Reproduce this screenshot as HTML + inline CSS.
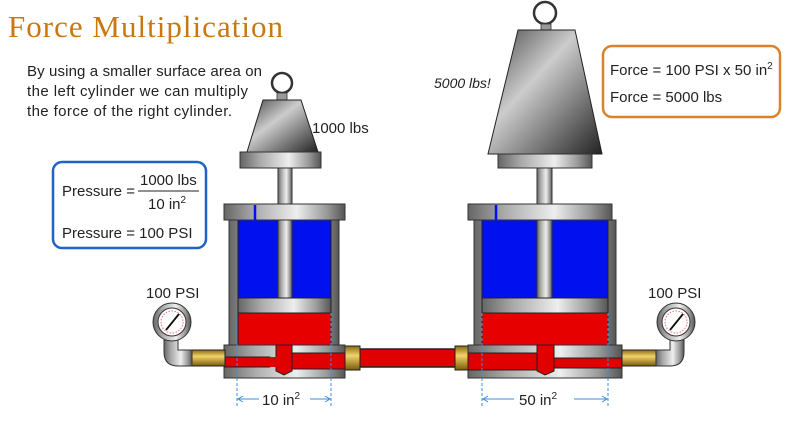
<!DOCTYPE html>
<html><head><meta charset="utf-8"><style>
html,body{margin:0;padding:0;background:#fff;width:800px;height:427px;overflow:hidden}
svg{display:block}
text{font-family:"Liberation Sans",sans-serif;fill:#222}
</style></head><body>
<svg width="800" height="427" viewBox="0 0 800 427" xmlns="http://www.w3.org/2000/svg">
<defs>
<linearGradient id="met" x1="0" x2="1" y1="0" y2="0">
<stop offset="0" stop-color="#666"/><stop offset="0.25" stop-color="#aaa"/><stop offset="0.6" stop-color="#eee"/><stop offset="0.85" stop-color="#999"/><stop offset="1" stop-color="#555"/></linearGradient>
<linearGradient id="wt" x1="0" x2="1" y1="0" y2="1">
<stop offset="0" stop-color="#444"/><stop offset="0.4" stop-color="#ccc"/><stop offset="0.7" stop-color="#777"/><stop offset="1" stop-color="#222"/></linearGradient>
<linearGradient id="brass" x1="0" x2="0" y1="0" y2="1">
<stop offset="0" stop-color="#8a6a10"/><stop offset="0.4" stop-color="#f2d36a"/><stop offset="1" stop-color="#7a5a08"/></linearGradient>
</defs>

<text x="8" y="37" font-size="31" style="font-family:'Liberation Serif',serif;fill:#c8780f" textLength="275">Force Multiplication</text>
<text x="27" y="76" font-size="15" textLength="235">By using a smaller surface area on</text>
<text x="27" y="96" font-size="15" textLength="221">the left cylinder we can multiply</text>
<text x="27" y="116" font-size="15" textLength="205">the force of the right cylinder.</text>

<rect x="53" y="162" width="153" height="86" rx="9" fill="#fff" stroke="#1f63c6" stroke-width="2.5"/>
<text x="62" y="196" font-size="15">Pressure =</text>
<text x="140" y="185" font-size="15">1000 lbs</text>
<line x1="138" y1="191" x2="199" y2="191" stroke="#222" stroke-width="1"/>
<text x="148" y="209" font-size="15">10 in<tspan font-size="10" dy="-6">2</tspan></text>
<text x="62" y="238" font-size="15">Pressure = 100 PSI</text>

<rect x="603" y="46" width="177" height="71" rx="9" fill="#fff" stroke="#d9822b" stroke-width="2.5"/>
<text x="610" y="75" font-size="15">Force = 100 PSI x 50 in<tspan font-size="10" dy="-6">2</tspan></text>
<text x="610" y="102" font-size="15">Force = 5000 lbs</text>

<text x="434" y="88" font-size="14" font-style="italic">5000 lbs!</text>
<text x="312" y="133" font-size="15">1000 lbs</text>
<text x="146" y="298" font-size="15">100 PSI</text>
<text x="648" y="298" font-size="15">100 PSI</text>

<circle cx="282" cy="83" r="10" fill="none" stroke="#333" stroke-width="2.5"/>
<rect x="277" y="93" width="10" height="7" fill="#999" stroke="#333" stroke-width="0.8"/>
<polygon points="263,100 301,100 318,152 247,152" fill="url(#wt)" stroke="#222"/>
<rect x="240" y="152" width="81" height="16" fill="url(#met)" stroke="#333"/>
<rect x="278" y="168" width="14" height="130" fill="url(#met)" stroke="#333"/>

<circle cx="545" cy="13" r="11" fill="none" stroke="#333" stroke-width="2.5"/>
<rect x="541" y="24" width="10" height="6" fill="#999" stroke="#333" stroke-width="0.8"/>
<polygon points="518,30 575,30 602,154 488,154" fill="url(#wt)" stroke="#222"/>
<rect x="498" y="154" width="94" height="14" fill="url(#met)" stroke="#333"/>
<rect x="537" y="168" width="15" height="130" fill="url(#met)" stroke="#333"/>

<rect x="355" y="349" width="105" height="18" fill="#e00000" stroke="#222" stroke-width="1.5"/>
<rect x="344" y="346" width="16" height="24" fill="url(#brass)" stroke="#222"/>
<rect x="455" y="346" width="16" height="24" fill="url(#brass)" stroke="#222"/>

<rect x="229" y="220" width="110" height="125" fill="url(#met)" stroke="#333"/>
<rect x="238" y="220" width="93" height="78" fill="#0010ee" stroke="#222"/>
<rect x="278" y="220" width="14" height="78" fill="url(#met)" stroke="#333"/>
<rect x="238" y="298" width="93" height="15" fill="url(#met)" stroke="#222"/>
<rect x="238" y="313" width="93" height="32" fill="#e60000" stroke="#222"/>
<rect x="224" y="204" width="121" height="16" fill="url(#met)" stroke="#333"/>
<line x1="255" y1="205" x2="255" y2="220" stroke="#0010ee" stroke-width="2.5"/>
<rect x="224" y="345" width="121" height="33" fill="url(#met)" stroke="#333"/>
<rect x="224" y="357" width="46" height="10" fill="#e00000" stroke="#222"/>
<rect x="292" y="353" width="53" height="16" fill="#e00000" stroke="#222"/>
<polygon points="276,345 292,345 292,371 284,375 276,371" fill="#e00000" stroke="#222"/>
<rect x="269" y="357" width="10" height="10" fill="#e00000"/>

<rect x="474" y="220" width="142" height="125" fill="url(#met)" stroke="#333"/>
<rect x="482" y="220" width="126" height="78" fill="#0010ee" stroke="#222"/>
<rect x="537" y="220" width="15" height="78" fill="url(#met)" stroke="#333"/>
<rect x="482" y="298" width="126" height="15" fill="url(#met)" stroke="#222"/>
<rect x="482" y="313" width="126" height="32" fill="#e60000" stroke="#222"/>
<rect x="468" y="204" width="144" height="16" fill="url(#met)" stroke="#333"/>
<line x1="496" y1="205" x2="496" y2="220" stroke="#0010ee" stroke-width="2.5"/>
<rect x="468" y="345" width="154" height="33" fill="url(#met)" stroke="#333"/>
<rect x="468" y="353" width="70" height="17" fill="#e00000" stroke="#222"/>
<rect x="553" y="358" width="69" height="10" fill="#e00000" stroke="#222"/>
<polygon points="537,345 554,345 554,371 545,375 537,371" fill="#e00000" stroke="#222"/>

<rect x="190" y="350" width="35" height="16" fill="url(#brass)" stroke="#222"/>
<path d="M164,340 h14 v10 h14 v16 h-14 q-14,0 -14,-14 z" fill="url(#met)" stroke="#333"/>
<rect x="622" y="350" width="36" height="16" fill="url(#brass)" stroke="#222"/>
<path d="M684,340 h-14 v10 h-14 v16 h14 q14,0 14,-14 z" fill="url(#met)" stroke="#333"/>

<g>
<circle cx="172" cy="322" r="19" fill="url(#met)" stroke="#333"/>
<circle cx="172" cy="322" r="14" fill="#fff" stroke="#333"/>
<circle cx="172" cy="322" r="11" fill="none" stroke="#e88" stroke-width="1.2" stroke-dasharray="1.5 1.5"/>
<line x1="166" y1="330" x2="179" y2="314" stroke="#111" stroke-width="1.8"/>
</g>
<g>
<circle cx="676" cy="322" r="19" fill="url(#met)" stroke="#333"/>
<circle cx="676" cy="322" r="14" fill="#fff" stroke="#333"/>
<circle cx="676" cy="322" r="11" fill="none" stroke="#e88" stroke-width="1.2" stroke-dasharray="1.5 1.5"/>
<line x1="670" y1="330" x2="683" y2="314" stroke="#111" stroke-width="1.8"/>
</g>

<g stroke="#3b8fe0" stroke-width="1" fill="none">
<line x1="237" y1="313" x2="237" y2="408" stroke-dasharray="3 2"/>
<line x1="331" y1="313" x2="331" y2="408" stroke-dasharray="3 2"/>
<line x1="482" y1="313" x2="482" y2="408" stroke-dasharray="3 2"/>
<line x1="608" y1="313" x2="608" y2="408" stroke-dasharray="3 2"/>
<line x1="238" y1="399" x2="259" y2="399"/><line x1="310" y1="399" x2="330" y2="399"/>
<polyline points="243,396 238,399 243,402"/><polyline points="325,396 330,399 325,402"/>
<line x1="483" y1="399" x2="514" y2="399"/><line x1="574" y1="399" x2="607" y2="399"/>
<polyline points="488,396 483,399 488,402"/><polyline points="602,396 607,399 602,402"/>
</g>
<text x="262" y="405" font-size="15">10 in<tspan font-size="10" dy="-6">2</tspan></text>
<text x="519" y="405" font-size="15">50 in<tspan font-size="10" dy="-6">2</tspan></text>
</svg>
</body></html>
